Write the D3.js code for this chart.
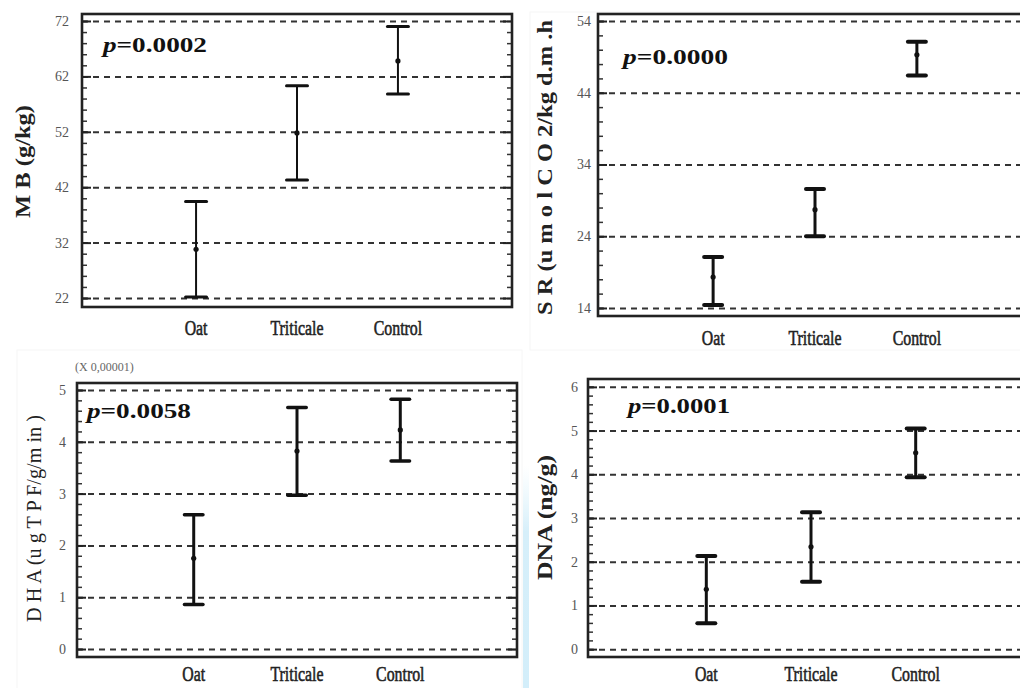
<!DOCTYPE html>
<html>
<head>
<meta charset="utf-8">
<script src="https://cdn.jsdelivr.net/npm/d3@7"></script>
<style>
  html, body { margin: 0; padding: 0; background: #fff; }
  svg { display: block; }
  text { font-family: "Liberation Serif", "DejaVu Serif", serif; }
</style>
</head>
<body>
<div id="chart"></div>
<script>
// categories shared by all four panels
const categories = ["Oat", "Triticale", "Control"];

// MB (g/kg)
const mbMean = [30.8, 51.8, 64.8];
const mbLow  = [22.2, 43.3, 58.8];
const mbHigh = [39.4, 60.3, 71.0];
const mbTicks = [22, 32, 42, 52, 62, 72];

// SR
const srMean = [18.3, 27.7, 49.3];
const srLow  = [14.4, 24.0, 46.4];
const srHigh = [21.1, 30.6, 51.1];
const srTicks = [14, 24, 34, 44, 54];

// DHA (x 0,00001)
const dhaMean = [1.75, 3.82, 4.23];
const dhaLow  = [0.86, 2.97, 3.63];
const dhaHigh = [2.59, 4.66, 4.82];
const dhaTicks = [0, 1, 2, 3, 4, 5];

// DNA (ng/g)
const dnaMean = [1.37, 2.34, 4.49];
const dnaLow  = [0.59, 1.54, 3.93];
const dnaHigh = [2.13, 3.13, 5.05];
const dnaTicks = [0, 1, 2, 3, 4, 5, 6];

const pValues = ["0.0002", "0.0000", "0.0058", "0.0001"];

const W = 1020, H = 688;
const svg = d3.select("#chart").append("svg")
  .attr("width", W).attr("height", H);

// light blue stripe in the lower middle of the picture
const defs = svg.append("defs");
const grad = defs.append("linearGradient").attr("id", "stripe")
  .attr("x1", 0).attr("y1", 0).attr("x2", 0).attr("y2", 1);
grad.append("stop").attr("offset", "0%").attr("stop-color", "#dff3fb").attr("stop-opacity", 0);
grad.append("stop").attr("offset", "30%").attr("stop-color", "#d6effa").attr("stop-opacity", 1);
grad.append("stop").attr("offset", "100%").attr("stop-color", "#d3eefa").attr("stop-opacity", 1);
svg.append("rect").attr("x", 523).attr("y", 465).attr("width", 6).attr("height", 223)
  .attr("fill", "url(#stripe)");

// faint borders of the pasted images
svg.append("rect").attr("x", 530).attr("y", 12).attr("width", 500).attr("height", 338)
  .attr("fill", "none").attr("stroke", "#f6f6f6");
svg.append("rect").attr("x", 17).attr("y", 350).attr("width", 505).attr("height", 345)
  .attr("fill", "none").attr("stroke", "#f6f6f6");

const panels = [
  { frame: [82, 512, 14, 307], domain: [20.38, 73.26], ticks: mbTicks, minor: 2,
    mean: mbMean, low: mbLow, high: mbHigh, p: pValues[0],
    title: "M B (g/kg)", titleX: 30, titleY: 218, titleLen: 113, titleBold: true,
    pX: 103, pY: 52, pLen: 104, tickPad: 13, labelY: 335,
    barW: 2, capW: 24, capH: 3 },
  { frame: [598, 1032, 14, 316], domain: [12.88, 54.98], ticks: srTicks, minor: 2,
    mean: srMean, low: srLow, high: srHigh, p: pValues[1],
    title: "S R (u m o l C O 2/kg d.m .h", titleX: 552, titleY: 315, titleLen: 295, titleBold: true,
    pX: 623, pY: 64, pLen: 105, tickPad: 7, labelY: 345,
    barW: 3, capW: 22, capH: 4 },
  { frame: [77, 517, 383, 657], domain: [-0.154, 5.135], ticks: dhaTicks, minor: 0.2,
    mean: dhaMean, low: dhaLow, high: dhaHigh, p: pValues[2],
    title: "D H A (u g T P F/g/m in )", titleX: 41, titleY: 622, titleLen: 207, titleBold: false,
    pX: 87, pY: 418, pLen: 104, tickPad: 11, labelY: 681,
    barW: 3, capW: 22, capH: 3.5, multiplier: "(X 0,00001)" },
  { frame: [588, 1034, 379, 657], domain: [-0.18, 6.18], ticks: dnaTicks, minor: 0.2,
    mean: dnaMean, low: dnaLow, high: dnaHigh, p: pValues[3],
    title: "DNA (ng/g)", titleX: 552, titleY: 580, titleLen: 125, titleBold: true,
    pX: 628, pY: 413, pLen: 102, tickPad: 10, labelY: 681,
    barW: 3, capW: 22, capH: 4 }
];

panels.forEach(cfg => {
  const [x0, x1, y0, y1] = cfg.frame;
  const g = svg.append("g");

  const x = d3.scalePoint().domain(categories).range([x0, x1]).padding(1.13);
  const y = d3.scaleLinear().domain(cfg.domain).range([y1, y0]);

  const first = Math.ceil(cfg.domain[0] / cfg.minor) * cfg.minor;
  const minorVals = d3.range(first, cfg.domain[1], cfg.minor).map(v => +v.toFixed(3));

  // dashed grid
  g.append("g")
    .attr("transform", `translate(${x0},0)`)
    .call(d3.axisLeft(y).tickValues(cfg.ticks).tickSize(-(x1 - x0)).tickFormat(""))
    .call(a => a.select(".domain").remove())
    .call(a => a.selectAll("line")
      .attr("stroke", "#333").attr("stroke-width", 2).attr("stroke-dasharray", "6,5"));

  // minor ticks, left and right edges, inward
  g.append("g")
    .attr("transform", `translate(${x0},0)`)
    .call(d3.axisLeft(y).tickValues(minorVals).tickSize(-5).tickFormat(""))
    .call(a => a.select(".domain").remove())
    .call(a => a.selectAll("line").attr("stroke", "#333").attr("stroke-width", 1.5));
  g.append("g")
    .attr("transform", `translate(${x1},0)`)
    .call(d3.axisRight(y).tickValues(minorVals).tickSize(-5).tickFormat(""))
    .call(a => a.select(".domain").remove())
    .call(a => a.selectAll("line").attr("stroke", "#333").attr("stroke-width", 1.5));

  // major ticks with labels
  g.append("g")
    .attr("transform", `translate(${x0},0)`)
    .call(d3.axisLeft(y).tickValues(cfg.ticks).tickSize(-9).tickPadding(cfg.tickPad)
      .tickFormat(d3.format("d")))
    .call(a => a.select(".domain").remove())
    .call(a => a.selectAll("line").attr("stroke", "#222").attr("stroke-width", 2))
    .call(a => a.selectAll("text")
      .attr("fill", "#555").style("font-size", "14px")
      .style("font-family", "'Liberation Serif', serif"));
  g.append("g")
    .attr("transform", `translate(${x1},0)`)
    .call(d3.axisRight(y).tickValues(cfg.ticks).tickSize(-9).tickFormat(""))
    .call(a => a.select(".domain").remove())
    .call(a => a.selectAll("line").attr("stroke", "#222").attr("stroke-width", 2));

  // frame
  g.append("rect")
    .attr("x", x0).attr("y", y0).attr("width", x1 - x0).attr("height", y1 - y0)
    .attr("fill", "none").attr("stroke", "#222").attr("stroke-width", 2.6);

  // error bars
  const rows = categories.map((c, i) => ({ c, m: cfg.mean[i], lo: cfg.low[i], hi: cfg.high[i] }));
  const bars = g.selectAll(".bar").data(rows).join("g").attr("class", "bar");
  bars.append("line")
    .attr("x1", d => x(d.c)).attr("x2", d => x(d.c))
    .attr("y1", d => y(d.lo)).attr("y2", d => y(d.hi))
    .attr("stroke", "#111").attr("stroke-width", cfg.barW);
  ["lo", "hi"].forEach(k => {
    bars.append("line")
      .attr("x1", d => x(d.c) - cfg.capW / 2 + cfg.capH / 2)
      .attr("x2", d => x(d.c) + cfg.capW / 2 - cfg.capH / 2)
      .attr("y1", d => y(d[k])).attr("y2", d => y(d[k]))
      .attr("stroke", "#111").attr("stroke-width", cfg.capH)
      .attr("stroke-linecap", "round");
  });
  bars.append("circle")
    .attr("cx", d => x(d.c)).attr("cy", d => y(d.m)).attr("r", 2.6)
    .attr("fill", "#111");

  // category labels, narrow serif
  g.selectAll(".cat").data(categories).join("text")
    .attr("class", "cat")
    .attr("transform", d => `translate(${x(d)},${cfg.labelY}) scale(0.72,1)`)
    .attr("text-anchor", "middle")
    .attr("fill", "#222").attr("stroke", "#222").attr("stroke-width", 0.6)
    .style("font-size", "22px")
    .text(d => d);

  // y title
  g.append("text")
    .attr("transform", `translate(${cfg.titleX},${cfg.titleY}) rotate(-90)`)
    .attr("textLength", cfg.titleLen).attr("lengthAdjust", "spacingAndGlyphs")
    .attr("fill", "#222")
    .style("font-size", "22px")
    .style("font-weight", cfg.titleBold ? "bold" : "normal")
    .text(cfg.title);

  // p value
  const pt = g.append("text")
    .attr("x", cfg.pX).attr("y", cfg.pY)
    .attr("textLength", cfg.pLen).attr("lengthAdjust", "spacingAndGlyphs")
    .attr("fill", "#111")
    .style("font-size", "22px").style("font-weight", "bold");
  pt.append("tspan").style("font-style", "italic").text("p");
  pt.append("tspan").text("=" + cfg.p);

  if (cfg.multiplier) {
    g.append("text")
      .attr("x", x0 - 2).attr("y", y0 - 12)
      .attr("fill", "#666").style("font-size", "12px")
      .text(cfg.multiplier);
  }
});
</script>
</body>
</html>
